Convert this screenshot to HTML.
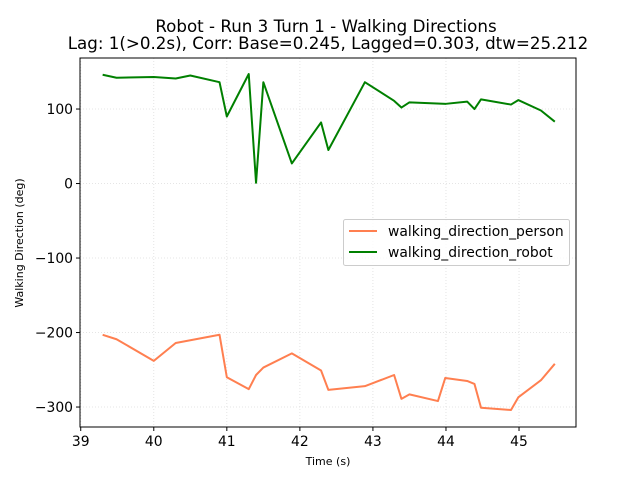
<!DOCTYPE html>
<html><head><meta charset="utf-8"><style>
body{margin:0;background:#fff;font-family:"Liberation Sans","DejaVu Sans",sans-serif}
svg text{font-family:"DejaVu Sans","Liberation Sans",sans-serif}
</style></head><body>
<svg id="chart" width="640" height="480" xmlns="http://www.w3.org/2000/svg">
<rect width="640" height="480" fill="#fff"/>
<g id="grid"></g><g id="series"></g><g id="ticks"></g>
<text x="326" y="32" text-anchor="middle" font-size="16.7">Robot - Run 3 Turn 1 - Walking Directions</text>
<text x="328" y="49" text-anchor="middle" font-size="16.7">Lag: 1(&gt;0.2s), Corr: Base=0.245, Lagged=0.303, dtw=25.212</text>
<text x="328" y="465" text-anchor="middle" font-size="11">Time (s)</text>
<text transform="translate(23,243) rotate(-90)" text-anchor="middle" font-size="11">Walking Direction (deg)</text>
<rect x="80" y="58" width="496" height="369" fill="none" stroke="#000" stroke-width="1"/>
<g>
<rect x="343.5" y="219.5" width="226" height="46" rx="2" fill="#fff" fill-opacity="0.8" stroke="#ccc"/>
<line x1="349" y1="231" x2="377" y2="231" stroke="#ff7f50" stroke-width="2"/>
<text x="388" y="236" font-size="13.9">walking_direction_person</text>
<line x1="349" y1="252" x2="377" y2="252" stroke="#008000" stroke-width="2"/>
<text x="388" y="257" font-size="13.9">walking_direction_robot</text>
</g>
</svg>
<script>
const times=[39.30,39.49,40.0,40.30,40.50,40.90,41.0,41.30,41.40,41.50,41.89,42.29,42.39,42.89,43.29,43.39,43.50,44.0,44.29,44.39,44.48,44.89,44.99,45.30,45.49];
const robotValues=[146,142,143,141,145,136,90,147,1,136,27,82,45,136,111,102,109,107,110,100,113,106,112,98,83];
const personTimes=[39.30,39.49,40.0,40.30,40.90,41.0,41.30,41.40,41.50,41.89,42.29,42.39,42.89,43.29,43.39,43.50,43.89,43.99,44.29,44.39,44.48,44.89,44.99,45.30,45.49];
const personValues=[-203,-209,-238,-214,-203,-260,-276,-257,-247,-228,-251,-277,-272,-257,-289,-283,-292,-261,-265,-269,-301,-304,-287,-264,-242];
const xTicks=[39,40,41,42,43,44,45];
const yTicks=[100,0,-100,-200,-300];
const X0=38.99,X1=45.78,Y0=-326.8,Y1=168.5;
const L=80,T=58,W=496,H=369;
const sx=v=>L+(v-X0)/(X1-X0)*W;
const sy=v=>T+(Y1-v)/(Y1-Y0)*H;
const NS="http://www.w3.org/2000/svg";
function mk(tag,attrs,parent){const e=document.createElementNS(NS,tag);for(const k in attrs)e.setAttribute(k,attrs[k]);document.getElementById(parent).appendChild(e);return e;}
xTicks.forEach(t=>{const x=sx(t);
const g=mk('line',{x1:x,x2:x,y1:T,y2:T+H,stroke:'#ddd','stroke-dasharray':'1,2','stroke-width':0.8},'grid');


const tk=mk('line',{x1:x,x2:x,y1:T+H,y2:T+H+4,stroke:'#000'},'ticks');


const tx=mk('text',{x:x,y:T+H+19,'text-anchor':'middle','font-size':13.9},'ticks');tx.textContent=t;

});
yTicks.forEach(t=>{const y=sy(t);
const g=mk('line',{x1:L,x2:L+W,y1:y,y2:y,stroke:'#ddd','stroke-dasharray':'1,2','stroke-width':0.8},'grid');


const tk=mk('line',{x1:L-4,x2:L,y1:y,y2:y,stroke:'#000'},'ticks');


const tx=mk('text',{x:L-7,y:y+5,'text-anchor':'end','font-size':13.9},'ticks');tx.textContent=(t<0?'\u2212'+(-t):t);

});
const p1=mk('polyline',{points:personTimes.map((t,i)=>sx(t)+','+sy(personValues[i])).join(' '),fill:'none',stroke:'#ff7f50','stroke-width':2,'stroke-linejoin':'round'},'series');


const p2=mk('polyline',{points:times.map((t,i)=>sx(t)+','+sy(robotValues[i])).join(' '),fill:'none',stroke:'#008000','stroke-width':2,'stroke-linejoin':'round'},'series');


</script>
</body></html>
